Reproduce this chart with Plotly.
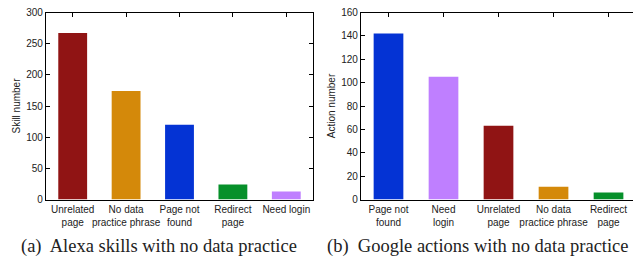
import plotly.graph_objects as go

# Data
alexa_labels = ["Unrelated<br>page", "No data<br>practice phrase", "Page not<br>found", "Redirect<br>page", "Need login"]
alexa_values = [267, 174, 120, 24, 13]
alexa_colors = ["#901414", "#d4890a", "#0433d4", "#06902a", "#bf7fff"]

google_labels = ["Page not<br>found", "Need<br>login", "Unrelated<br>page", "No data<br>practice phrase", "Redirect<br>page"]
google_values = [142, 105, 63, 11, 6]
google_colors = ["#0433d4", "#bf7fff", "#901414", "#d4890a", "#06902a"]

W, H = 633, 264
tick_font = dict(family="Liberation Sans, Arial, sans-serif", size=10, color="#222")

fig = go.Figure()
fig.add_trace(go.Bar(x=list(range(5)), y=alexa_values, marker=dict(color=alexa_colors, line=dict(width=0)),
                     width=0.54, xaxis="x", yaxis="y", showlegend=False))
fig.add_trace(go.Bar(x=list(range(5)), y=google_values, marker=dict(color=google_colors, line=dict(width=0)),
                     width=0.54, xaxis="x2", yaxis="y2", showlegend=False))

ytop = 1 - 12.5 / H
ybot = 1 - 199.5 / H

axis_common = dict(showline=True, linecolor="black", linewidth=1.3, ticks="inside", ticklen=4,
                   tickcolor="black", tickwidth=1, showgrid=False, zeroline=False, tickfont=tick_font,
                   layer="below traces", tickangle=0, automargin=False)

title_font = dict(family="Liberation Sans, Arial, sans-serif", size=10, color="#222")

fig.update_layout(
    width=W, height=H, margin=dict(l=0, r=0, t=0, b=0),
    paper_bgcolor="white", plot_bgcolor="white",
    xaxis=dict(axis_common, domain=[46 / W, 313 / W], range=[-0.5, 4.5], tickmode="array",
               tickvals=list(range(5)), ticktext=alexa_labels, mirror="ticks", anchor="y"),
    yaxis=dict(axis_common, domain=[ybot, ytop], range=[0, 300], dtick=50, mirror="ticks", anchor="x",
               title=dict(text="Skill number", font=title_font, standoff=3)),
    xaxis2=dict(axis_common, domain=[361 / W, 1.0], range=[-0.5, 4.445], tickmode="array",
                tickvals=list(range(5)), ticktext=google_labels, mirror="ticks", anchor="y2"),
    yaxis2=dict(axis_common, domain=[ybot, ytop], range=[0, 160], dtick=20, anchor="x2",
                title=dict(text="Action number", font=title_font, standoff=3)),
    annotations=[
        dict(text="(a)  Alexa skills with no data practice", x=159 / W, y=1 - 246 / H, xref="paper", yref="paper",
             showarrow=False, font=dict(family="Liberation Serif, serif", size=18.5, color="#222"), xanchor="center", yanchor="middle"),
        dict(text="(b)  Google actions with no data practice", x=478 / W, y=1 - 246 / H, xref="paper", yref="paper",
             showarrow=False, font=dict(family="Liberation Serif, serif", size=18.5, color="#222"), xanchor="center", yanchor="middle"),
    ],
)

fig.write_html("out.html", config={"displayModeBar": False},
               post_script="document.body.style.margin='0';document.body.style.overflow='hidden';")
